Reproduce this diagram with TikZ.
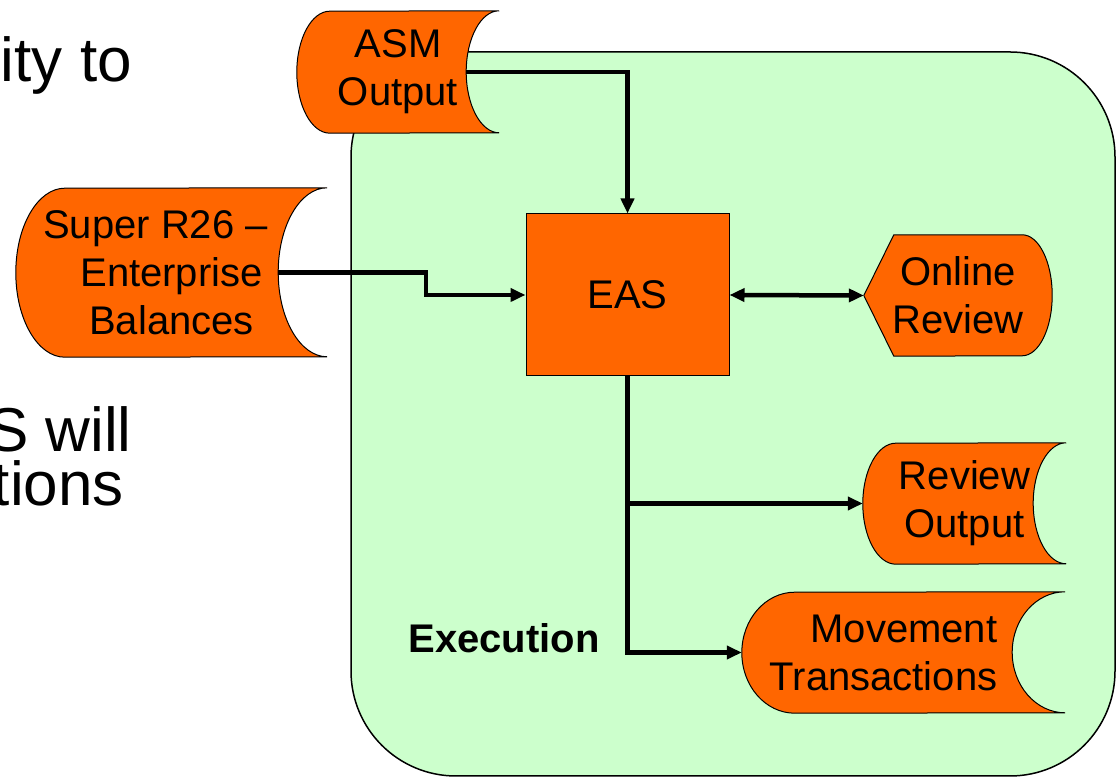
\documentclass[tikz,border=0pt]{standalone}
\usepackage{fontspec}
\setmainfont{Liberation Sans}
\usepackage{tikz}
\usetikzlibrary{arrows.meta}
\definecolor{easorange}{HTML}{FF6600}
\definecolor{execgreen}{HTML}{CCFFCC}
\pgfdeclarelayer{background}
\pgfsetlayers{background,main}
\newcommand{\boxfont}{\fontsize{40}{48}\selectfont}
\newcommand{\slidefont}{\fontsize{62}{54}\selectfont}
\tikzstyle{process}=[draw, fill=easorange, line width=1pt, inner sep=0, font=\boxfont]
\tikzstyle{datanode}=[inner sep=0, font=\boxfont]
\tikzstyle{slidetext}=[font=\slidefont, anchor=base east, inner sep=0]
\tikzstyle{outline}=[draw=black, fill=easorange, line width=1pt]
\tikzstyle{flow}=[line width=4.5pt, -{Triangle[length=15pt,width=13pt]}]
\tikzstyle{twoway}=[line width=4.5pt, {Triangle[length=15pt,width=13pt]}-{Triangle[length=15pt,width=13pt]}]
% stored data outline round a node: #1 node, #2 bulge, #3 half height
\newcommand{\storeddata}[3]{%
  \path[outline] (#1.north east) arc[start angle=90, end angle=270, x radius=#2, y radius=#3]
    -- ([xshift=#2]#1.south west) arc[start angle=270, end angle=90, x radius=#2, y radius=#3] -- cycle;
  \coordinate (#1 in) at ([xshift=-#2]#1.east);}
\newcommand{\displaydata}[3]{%
  \path[outline] (#1.west) -- ([xshift=#2]#1.north west) -- ([xshift=-#2]#1.north east)
    arc[start angle=90, end angle=-90, x radius=#2, y radius=#3] -- ([xshift=#2]#1.south west) -- cycle;}
\begin{document}
\begin{tikzpicture}[x=1pt, y=1pt]
    \useasboundingbox (0,0) rectangle (1116,778);
    \node[slidetext] (line1) at (132,696) {ity to};
    \node[slidetext] (line2) at (132,326) {S will};
    \node[slidetext] (line3) at (124,272) {tions};
    \node[datanode, minimum width=202pt, minimum height=122pt, align=center] (asm) at (398,706) {ASM\\Output};
    \node[datanode, minimum width=311pt, minimum height=169pt, align=center] (super) at (171.5,505.5) {Super R26 –\hspace*{32pt}\\Enterprise\\Balances};
    \node[process, minimum width=203pt, minimum height=162pt] (eas) at (627.5,483) {EAS};
    \node[datanode, minimum width=188pt, minimum height=121pt, align=center] (online) at (958,482.5) {Online\\Review};
    \node[datanode, minimum width=203pt, minimum height=121pt, align=center] (revout) at (964.5,274.5) {Review\\Output};
    \node[datanode, minimum width=323pt, minimum height=121pt, align=right] (movtx) at (903.5,125.5) {Movement\hspace*{40pt}\\Transactions\hspace*{40pt}};
    \node[font=\boxfont\bfseries, anchor=base, inner sep=0] (exec) at (504,125) {Execution};
    \begin{pgfonlayer}{background}
        \path[draw=black, fill=execgreen, line width=1.5pt, rounded corners=105pt] (351,2) rectangle (1115,726);
        \storeddata{asm}{33pt}{61pt}
        \storeddata{super}{49pt}{84.5pt}
        \storeddata{revout}{33pt}{60.5pt}
        \storeddata{movtx}{53pt}{60.5pt}
        \displaydata{online}{30pt}{60.5pt}
    \end{pgfonlayer}
    \draw[flow] (asm in) -| (eas.north);
    \draw[flow] (super in) -- ++(148,0) |- (eas.west);
    \draw[twoway] (eas.east) -- (online.west);
    \draw[flow] (eas.south) |- (revout.west);
    \draw[flow] (eas.south) |- (movtx.west);
\end{tikzpicture}
\end{document}
